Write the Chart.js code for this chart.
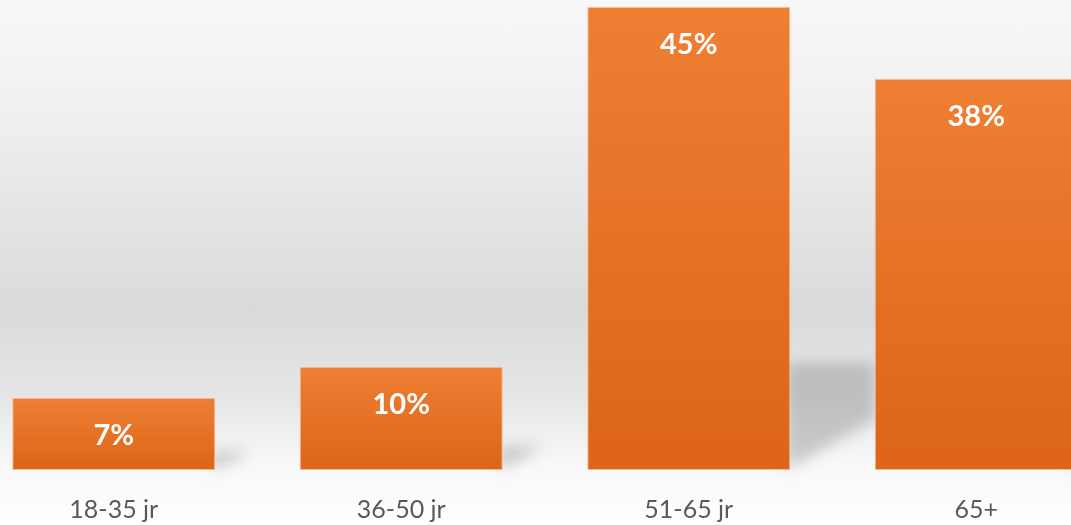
<!DOCTYPE html>
<html><head><meta charset="utf-8">
<script src="https://cdn.jsdelivr.net/npm/chart.js@4.4.1/dist/chart.umd.min.js"></script>
<style>
html,body{margin:0;padding:0;width:1071px;height:525px;overflow:hidden;
background:linear-gradient(to bottom,#f8f8f8 0px,#efefef 120px,#dadada 310px,#e6e6e6 400px,#f8f8f8 465px,#ffffff 525px);}
#wrap{position:absolute;left:-30px;top:0;width:1150px;height:555px;}
</style></head>
<body>
<div id="wrap"><canvas id="c"></canvas></div>
<script>
const categories = ["18-35 jr","36-50 jr","51-65 jr","65+"];
const values = [7,10,45,38];
const valueLabels = ["7%","10%","45%","38%"];

const shadowPlugin = {
  id:'shadows',
  beforeDatasetsDraw(chart){
    const ctx = chart.ctx;
    const meta = chart.getDatasetMeta(0);
    meta.data.forEach((bar)=>{
      const right = bar.x + bar.width/2;
      const base = bar.base, h = base - bar.y;
      const top = base - Math.max(18, h*0.23);
      const L = Math.min(85, 20 + h*0.15);
      ctx.save();
      ctx.filter = 'blur(7px)';
      ctx.fillStyle = 'rgba(110,110,110,0.32)';
      ctx.beginPath();
      ctx.moveTo(right-4, base);
      ctx.lineTo(right-4, top);
      ctx.lineTo(right+L, top);
      ctx.lineTo(right+L, Math.max(top+4, base - L*0.6));
      ctx.closePath();
      ctx.fill();
      ctx.restore();
    });
  }
};
const labelPlugin = {
  id:'vlabels',
  afterDatasetsDraw(chart){
    const ctx = chart.ctx;
    const meta = chart.getDatasetMeta(0);
    ctx.save();
    ctx.font = 'bold 29px Lato';
    ctx.fillStyle = '#ffffff';
    ctx.textAlign = 'center';
    ctx.textBaseline = 'middle';
    meta.data.forEach((bar,i)=>{
      ctx.fillText(valueLabels[i], bar.x, bar.y + 38);
    });
    ctx.restore();
  }
};

new Chart(document.getElementById('c'), {
  type:'bar',
  data:{labels:categories, datasets:[{
    data:values,
    backgroundColor:(c)=>{
      const chart=c.chart; const ys=chart.scales.y;
      if(!ys || !chart.chartArea) return '#E97A2F';
      const v = c.raw; const top = ys.getPixelForValue(v), bot = ys.getPixelForValue(0);
      const g = chart.ctx.createLinearGradient(0,top,0,bot);
      g.addColorStop(0,'#EE7F33'); g.addColorStop(1,'#DD6418');
      return g;
    },
    borderColor:'rgba(250,170,120,0.8)',
    borderWidth:1,
    borderSkipped:false,
    barPercentage:0.706,
    categoryPercentage:1
  }]},
  options:{
    responsive:true, maintainAspectRatio:false, animation:false,
    layout:{padding:{top:7,bottom:5,left:0,right:0}},
    plugins:{legend:{display:false},tooltip:{enabled:false}},
    scales:{
      x:{grid:{display:false,drawTicks:false},border:{display:false},
         ticks:{color:'#595959',font:{family:'Lato',size:25},padding:25}},
      y:{display:false,min:0,max:45}
    }
  },
  plugins:[shadowPlugin,labelPlugin]
});
</script>
</body></html>
